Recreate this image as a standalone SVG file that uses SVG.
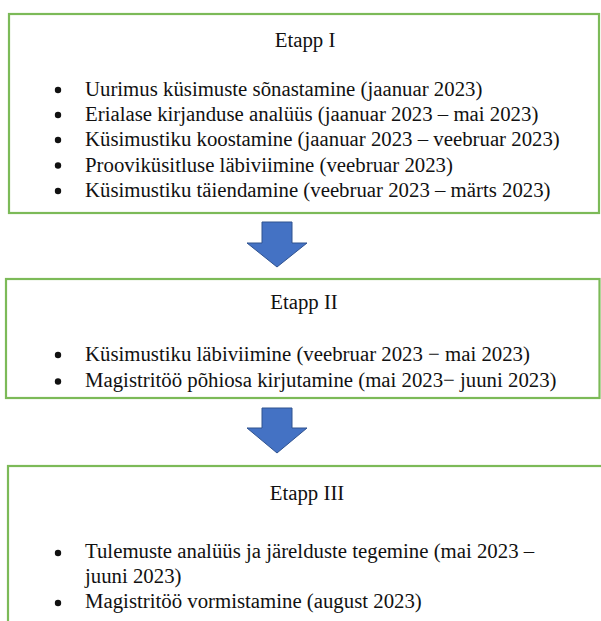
<svg xmlns="http://www.w3.org/2000/svg" width="601" height="621" viewBox="0 0 601 621">
<style>
.box{fill:#fff;stroke:#7CBA58;stroke-width:2.2}
text{font-family:'Liberation Serif','Times New Roman',Times,'DejaVu Serif',serif;font-size:20.8px;fill:#111}
.h{text-anchor:middle}
.arr{fill:#4472C4;stroke:#2F528F;stroke-width:1}
.b{fill:#111}
</style>
<rect width="601" height="621" fill="#fff"/>
<g id="etapp1">
<rect class="box" x="9" y="14" width="590" height="199"/>
<text class="h" x="305" y="46.5">Etapp I</text>
<circle class="b" cx="58" cy="90" r="3.2"/>
<circle class="b" cx="58" cy="115" r="3.2"/>
<circle class="b" cx="58" cy="140" r="3.2"/>
<circle class="b" cx="58" cy="165.5" r="3.2"/>
<circle class="b" cx="58" cy="191" r="3.2"/>
<text x="85" y="96">Uurimus küsimuste sõnastamine (jaanuar 2023)</text>
<text x="85" y="121">Erialase kirjanduse analüüs (jaanuar 2023 – mai 2023)</text>
<text x="85" y="146">Küsimustiku koostamine (jaanuar 2023 – veebruar 2023)</text>
<text x="85" y="171.5">Proovik&#252;sitluse läbiviimine (veebruar 2023)</text>
<text x="85" y="197">Küsimustiku täiendamine (veebruar 2023 – märts 2023)</text>
</g>
<g id="etapp2">
<rect class="box" x="6" y="279" width="593.5" height="119"/>
<text class="h" x="304" y="309">Etapp II</text>
<circle class="b" cx="58" cy="355" r="3.2"/>
<circle class="b" cx="58" cy="381.5" r="3.2"/>
<text x="85" y="360.5">Küsimustiku läbiviimine (veebruar 2023 − mai 2023)</text>
<text x="85" y="387">Magistritöö põhiosa kirjutamine (mai 2023− juuni 2023)</text>
</g>
<g id="etapp3">
<rect class="box" x="8" y="466" width="600" height="170"/>
<text class="h" x="307" y="500">Etapp III</text>
<circle class="b" cx="58" cy="553" r="3.2"/>
<circle class="b" cx="58" cy="603" r="3.2"/>
<text x="85" y="557.5">Tulemuste analüüs ja järelduste tegemine (mai 2023 –</text>
<text x="85" y="583">juuni 2023)</text>
<text x="85" y="607.5">Magistritöö vormistamine (august 2023)</text>
</g>
<g id="connectors">
<polygon class="arr" points="262,222 292,222 292,243 307,243 277,267 247,243 262,243"/>
<polygon class="arr" points="262,408 292,408 292,428 307,428 277,453 247,428 262,428"/>
</g>
</svg>
